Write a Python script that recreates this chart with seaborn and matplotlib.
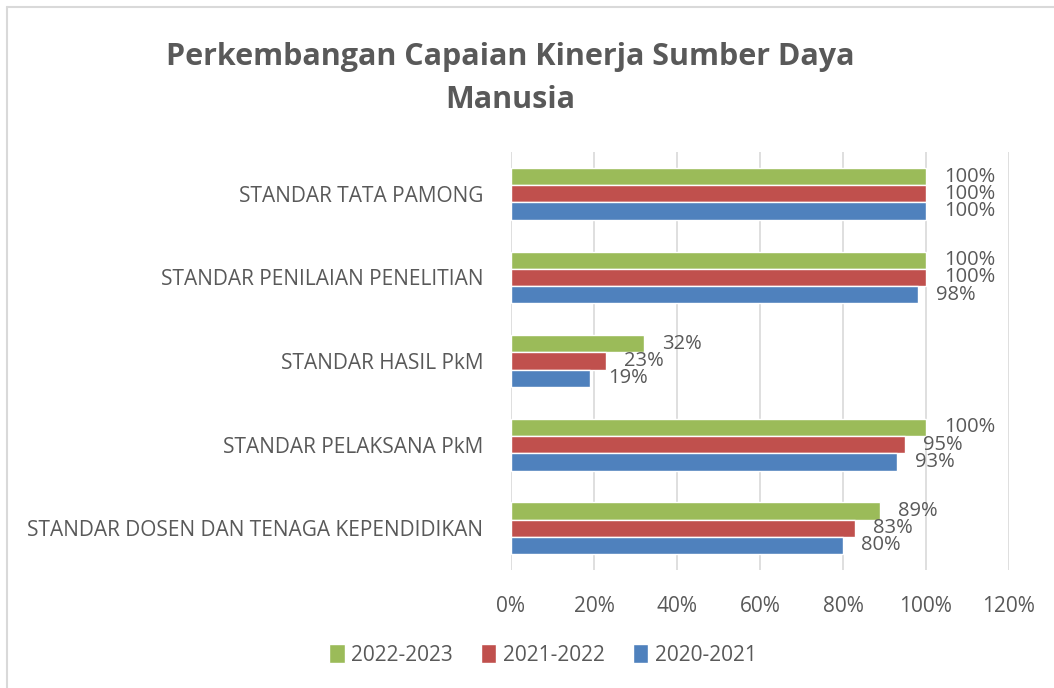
import pandas as pd
import matplotlib.pyplot as plt
import seaborn as sns
from matplotlib.lines import Line2D
from matplotlib.ticker import FuncFormatter

# Data
categories = ['STANDAR TATA PAMONG', 'STANDAR PENILAIAN PENELITIAN', 'STANDAR HASIL PkM',
              'STANDAR PELAKSANA PkM', 'STANDAR DOSEN DAN TENAGA KEPENDIDIKAN']
periods = ['2022-2023', '2021-2022', '2020-2021']
val_2022_2023 = [100, 100, 32, 100, 89]
val_2021_2022 = [100, 100, 23, 95, 83]
val_2020_2021 = [100, 98, 19, 93, 80]
colors = ['#9BBB59', '#C0504D', '#4F81BD']

df = pd.DataFrame({
    'Kategori': categories * 3,
    'Periode': [periods[0]] * 5 + [periods[1]] * 5 + [periods[2]] * 5,
    'Nilai': val_2022_2023 + val_2021_2022 + val_2020_2021,
})

sns.set_theme(style='white')
plt.rcParams['font.family'] = ['Open Sans', 'DejaVu Sans']
text_gray = '#595959'

fig = plt.figure(figsize=(10.54, 6.88), dpi=100)
ax = fig.add_axes([0.4848, 0.1715, 0.4725, 0.6075])

sns.barplot(data=df, y='Kategori', x='Nilai', hue='Periode', hue_order=periods,
            order=categories, palette=colors, width=0.62, orient='h',
            saturation=1, ax=ax, legend=True)

# data labels (stacked tightly, as in the original)
for cont in ax.containers:
    ax.bar_label(cont, labels=[f'{v:.0f}%' for v in cont.datavalues], padding=13,
                 fontsize=14.5, color=text_gray)

ax.set_xlim(0, 120)
ax.set_xticks(range(0, 121, 20))
ax.xaxis.set_major_formatter(FuncFormatter(lambda v, p: f'{v:.0f}%'))
ax.set_ylim(4.5, -0.5)
ax.grid(axis='x', color='#D9D9D9', linewidth=1.2)
ax.set_axisbelow(True)
for s in ax.spines.values():
    s.set_visible(False)
ax.set_xlabel('')
ax.set_ylabel('')
ax.tick_params(axis='x', labelsize=15, colors=text_gray, pad=19, length=0)
ax.tick_params(axis='y', labelsize=15, colors=text_gray, pad=20, length=0)

# legend at bottom
handles, labels = ax.get_legend_handles_labels()
ax.legend_.remove()
fig.legend(handles, labels, loc='center', bbox_to_anchor=(0.515, 0.048), ncol=3,
           frameon=False, fontsize=15, handlelength=0.75, handleheight=1.0,
           handletextpad=0.3, columnspacing=1.35, labelcolor=text_gray)

# title
fig.text(0.484, 0.886, 'Perkembangan Capaian Kinerja Sumber Daya\nManusia', ha='center', va='center',
         fontsize=22, fontweight='bold', color=text_gray, linespacing=1.6)

# chart border (left and top visible)
fig.add_artist(Line2D([7 / 1054, 7 / 1054], [0, 1 - 7 / 688], transform=fig.transFigure,
                      color='#D9D9D9', linewidth=1.5))
fig.add_artist(Line2D([7 / 1054, 1], [1 - 7 / 688, 1 - 7 / 688], transform=fig.transFigure,
                      color='#D9D9D9', linewidth=1.5))

fig.savefig('out.png', dpi=100)
